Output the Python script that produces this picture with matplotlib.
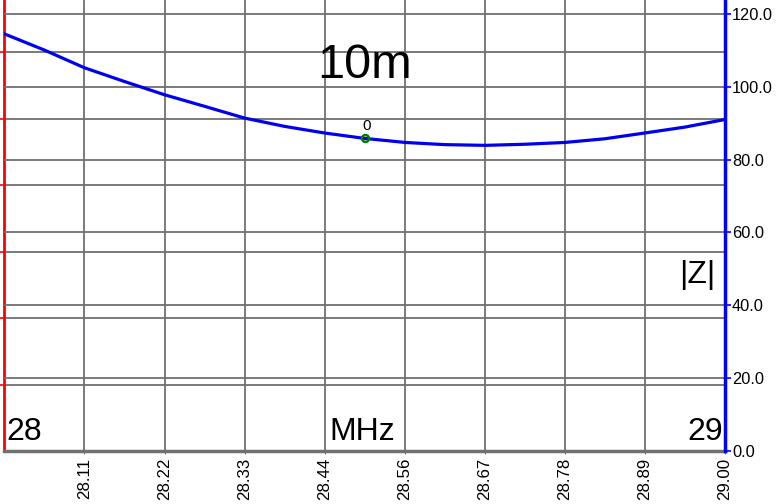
import numpy as np
import matplotlib.pyplot as plt

plt.rcParams.update({"font.family": ["Liberation Sans", "DejaVu Sans"]})

# |Z| (ohm) vs frecuencia (MHz)
frecs = [28.0, 28.055, 28.111, 28.167, 28.222, 28.278, 28.333, 28.389, 28.444,
         28.5, 28.556, 28.611, 28.667, 28.722, 28.778, 28.833, 28.889, 28.944, 29.0]
z_mod = [114.5, 110.1, 105.2, 101.4, 97.8, 94.6, 91.4, 89.1, 87.3,
         85.8, 84.7, 84.1, 83.9, 84.2, 84.7, 85.7, 87.3, 88.9, 91.0]

marca_f = 28.5
marca_z = 85.8

xticks = [28 + i / 9 for i in range(1, 10)]
xtick_labels = ["28.11", "28.22", "28.33", "28.44", "28.56", "28.67", "28.78", "28.89", "29.00"]
z_ticks = [0, 20, 40, 60, 80, 100, 120]
izq_ticks = [1, 2, 3, 4, 5, 6]

grid_color = "#707070"

fig = plt.figure(figsize=(7.78, 5.04), dpi=100)
rect = [4.4 / 778, 53 / 504, 720.6 / 778, 451 / 504]

# eje izquierdo (rojo), solo grilla y ticks
ax_l = fig.add_axes(rect)
ax_l.set_xlim(28, 29)
ax_l.set_ylim(0, 451 / 66.5)
ax_l.set_yticks(izq_ticks)
ax_l.set_yticklabels([])
ax_l.set_xticks(xticks)
ax_l.set_xticklabels(xtick_labels, rotation=90, fontsize=12.2)
ax_l.tick_params(axis="x", length=2, pad=3, color=grid_color)
ax_l.tick_params(axis="y", length=4, width=1.2, color="red", direction="out")
ax_l.grid(True, color=grid_color, linewidth=1.3)
for s in ["top", "right"]:
    ax_l.spines[s].set_visible(False)
ax_l.spines["left"].set_color("red")
ax_l.spines["left"].set_linewidth(2)
ax_l.spines["bottom"].set_color(grid_color)
ax_l.spines["bottom"].set_linewidth(2.5)

# eje derecho (azul), |Z|
ax = ax_l.twinx()
ax.set_ylim(0, 123.8)
ax.set_yticks(z_ticks)
ax.set_yticklabels([f"{v:.1f}" for v in z_ticks], fontsize=11.8)
ax.tick_params(axis="y", length=4, width=1.2, color="blue", pad=1)
ax.grid(True, axis="y", color=grid_color, linewidth=1.3)
for s in ["top", "left", "bottom"]:
    ax.spines[s].set_visible(False)
ax.spines["right"].set_color("blue")
ax.spines["right"].set_linewidth(2.5)

ax.plot(frecs, z_mod, color="#0000ee", linewidth=2.3, zorder=5)
ax.plot(marca_f, marca_z, "o", markersize=5, markerfacecolor="none",
        markeredgecolor="green", markeredgewidth=1.8, zorder=6)
ax.text(marca_f + 0.002, marca_z + 1.6, "0", fontsize=11, ha="center", va="bottom", color="black")

ax.text(0.5, 0.855, "10m", transform=ax.transAxes, fontsize=35, ha="center", va="center")
ax.text(0.986, 0.39, "|Z|", transform=ax.transAxes, fontsize=23, ha="right", va="center")
ax.text(0.497, 0.008, "MHz", transform=ax.transAxes, fontsize=23, ha="center", va="bottom")
ax.text(0.003, 0.008, "28", transform=ax.transAxes, fontsize=23, ha="left", va="bottom")
ax.text(0.997, 0.008, "29", transform=ax.transAxes, fontsize=23, ha="right", va="bottom")

fig.savefig("out.png", dpi=100)
